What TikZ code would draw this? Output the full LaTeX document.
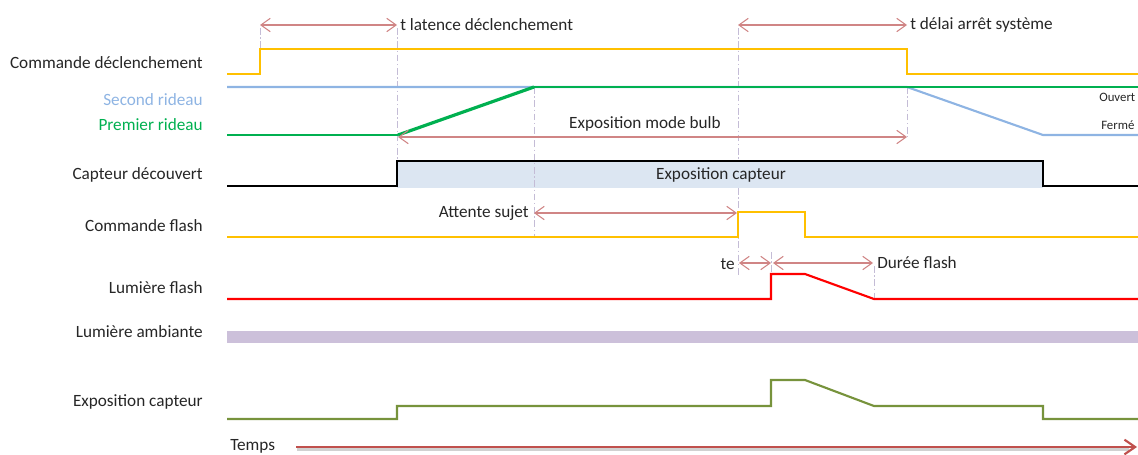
\documentclass[tikz,border=0pt]{standalone}
\usepackage{fontspec}
\setmainfont{Carlito}
\usetikzlibrary{arrows.meta,calc}
\definecolor{txt}{HTML}{262626}
\definecolor{cmdyellow}{HTML}{FFC000}
\definecolor{curtainblue}{HTML}{8EB4E3}
\definecolor{curtaingreen}{HTML}{00B050}
\definecolor{flashred}{HTML}{FF0000}
\definecolor{ambient}{HTML}{CCC0DA}
\definecolor{expgreen}{HTML}{77933C}
\definecolor{boxfill}{HTML}{DCE6F2}
\definecolor{dimred}{HTML}{D08585}
\definecolor{timered}{HTML}{C0504D}
\definecolor{guide}{HTML}{C4BCD6}
\tikzset{
  lab/.style={font=\fontsize{12.9}{15}\selectfont, text=txt, inner sep=0pt, anchor=east},
  note/.style={font=\fontsize{12.9}{15}\selectfont, text=txt, inner sep=0pt},
  small/.style={font=\fontsize{9.6}{11}\selectfont, text=txt, inner sep=0pt, anchor=west},
  sig/.style={line width=1.6pt, line join=miter},
  dim/.style={draw=dimred, line width=0.8pt, {Straight Barb[length=7pt,width=10pt]}-{Straight Barb[length=7pt,width=10pt]}},
  guideline/.style={draw=guide, line width=0.7pt, dash pattern=on 5pt off 2pt on 1pt off 2pt},
}
\begin{document}
\begin{tikzpicture}[x=0.75pt, y=-0.75pt]
\useasboundingbox (0,0) rectangle (1138,454);
\clip (0,0) rectangle (1138,454);

% sensor exposure box
\fill[boxfill] (397,161) rectangle (1043,188);

% vertical guide lines
\draw[guideline] (260,28) -- (260,49);
\draw[guideline] (397,28) -- (397,161);
\draw[guideline] (534,87) -- (534,237);
\draw[guideline] (738,28) -- (738,161);
\draw[guideline] (738,188) -- (738,276);
\draw[guideline] (907,87) -- (907,137);
\draw[guideline] (771,252) -- (771,274);
\draw[guideline] (874,266) -- (874,299);

% row labels
\node[lab] (l1) at (203,63) {Commande déclenchement};
\node[lab, text=curtainblue] (l2) at (203,100) {Second rideau};
\node[lab, text=curtaingreen] (l3) at (203,125) {Premier rideau};
\node[lab] (l4) at (203,175) {Capteur découvert};
\node[lab] (l5) at (203,226) {Commande flash};
\node[lab] (l6) at (203,288) {Lumière flash};
\node[lab] (l7) at (203,332) {Lumière ambiante};
\node[lab] (l8) at (203,402) {Exposition capteur};

% trigger command
\draw[sig, cmdyellow] (227,74) -- (260,74) -- (260,49) -- (907,49) -- (907,74) -- (1140,74);
% second curtain
\draw[sig, curtainblue] (227,87) -- (907,87) -- (1043,135) -- (1140,135);
% first curtain
\draw[sig, curtaingreen] (227,135) -- (398,135);
\draw[curtaingreen, line width=2.4pt] (398,135) -- (534,87);
\draw[sig, curtaingreen] (534,87) -- (1140,87);
\node[small] (open) at (1099,97) {Ouvert};
\node[small] (closed) at (1101,125) {Fermé};

% sensor uncovered
\draw[sig, black] (227,186) -- (397,186) -- (397,161) -- (1043,161) -- (1043,186) -- (1140,186);
\node[note] (expbox) at (721,175) {Exposition capteur};

% flash command
\draw[sig, cmdyellow] (227,237) -- (738,237) -- (738,212) -- (805,212) -- (805,237) -- (1140,237);
% flash light
\draw[sig, flashred] (227,299) -- (771,299) -- (771,274) -- (805,274) -- (874,299) -- (1140,299);
% ambient light
\fill[ambient] (227,331) rectangle (1140,343);
% sensor exposure
\draw[sig, expgreen] (227,419) -- (397,419) -- (397,406) -- (771,406) -- (771,380) -- (805,380) -- (874,406) -- (1043,406) -- (1043,419) -- (1140,419);

% timing dimensions
\coordinate (t0) at (260,25);
\coordinate (t1) at (397,25);
\draw[dim] (t0) -- (t1);
\node[note, anchor=west] (tlat) at (400,25) {t latence déclenchement};

\coordinate (t2) at (738,25);
\coordinate (t3) at (907,25);
\draw[dim] (t2) -- (t3);
\node[note, anchor=west] (tdel) at (910,25) {t délai arrêt système};

\coordinate (b0) at (398,137);
\coordinate (b1) at (907,137);
\draw[dim] (b0) -- (b1);
\node[note] (bulb) at (645,124) {Exposition mode bulb};

\coordinate (w0) at (534,213);
\coordinate (w1) at (737,213);
\draw[dim] (w0) -- (w1);
\node[note, anchor=east] (wait) at (529,213) {Attente sujet};

\coordinate (e0) at (739,263);
\coordinate (e1) at (771,263);
\draw[dim] (e0) -- (e1);
\node[note, anchor=east] (te) at (735,264) {te};

\coordinate (d0) at (773,263);
\coordinate (d1) at (873,263);
\draw[dim] (d0) -- (d1);
\node[note, anchor=west] (dur) at (877,263) {Durée flash};

% time axis
\node[note, anchor=base west] (temps) at (230,450) {Temps};
\coordinate (ax0) at (296,447);
\coordinate (ax1) at (1137,447);
\draw[black!18, line width=2.4pt] ($(ax0)+(1,2.5)$) -- ($(ax1)+(-8,2.5)$);
\draw[timered, line width=1.6pt, -{Straight Barb[length=8pt,width=11pt]}] (ax0) -- (ax1);
\end{tikzpicture}
\end{document}
